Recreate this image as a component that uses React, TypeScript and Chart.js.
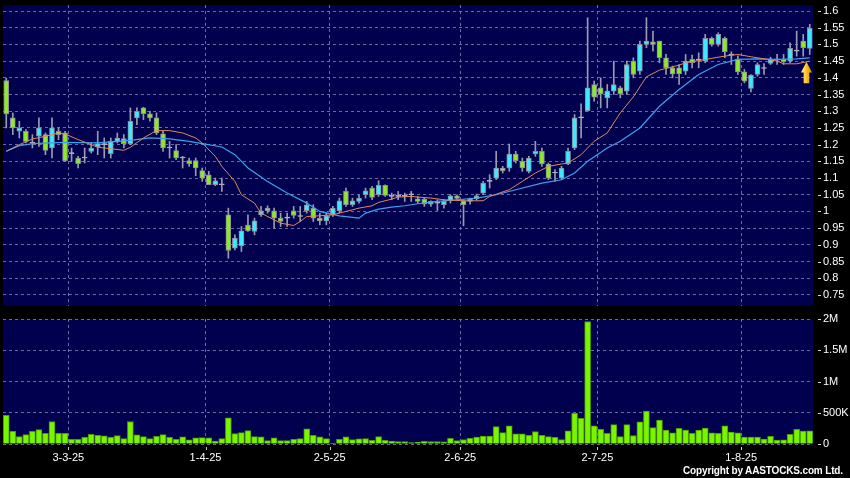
import React, { useEffect, useRef } from 'react';
import { Chart, registerables } from 'chart.js';

Chart.register(...registerables);

// ---------- data ----------
const opens = [
  1.392, 1.28, 1.24, 1.24, 1.205, 1.225, 1.23, 1.19, 1.24, 1.235,
  1.173, 1.16, 1.16, 1.18, 1.193, 1.2, 1.173, 1.21, 1.218, 1.203,
  1.28, 1.31, 1.292, 1.28, 1.232, 1.19, 1.182, 1.16, 1.152, 1.152,
  1.122, 1.11, 1.08, 1.08, 0.99, 0.89, 0.897, 0.959, 0.94, 0.99,
  1.01, 1.002, 0.98, 0.98, 1.002, 0.985, 1.002, 1.01, 0.98, 0.972,
  0.99, 1.002, 1.06, 1.02, 1.03, 1.05, 1.07, 1.05, 1.078, 1.045,
  1.045, 1.045, 1.05, 1.038, 1.037, 1.03, 1.025, 1.02, 1.032, 1.047,
  1.032, 1.03, 1.038, 1.055, 1.09, 1.1, 1.13, 1.13, 1.172, 1.15,
  1.12, 1.172, 1.18, 1.142, 1.115, 1.1, 1.142, 1.19, 1.28, 1.302,
  1.38, 1.37, 1.34, 1.36, 1.37, 1.36, 1.45, 1.42, 1.5, 1.508,
  1.51, 1.46, 1.43, 1.43, 1.42, 1.455, 1.453, 1.45, 1.518, 1.5,
  1.518, 1.468, 1.456, 1.418, 1.368, 1.41, 1.428, 1.443, 1.453, 1.456,
  1.45, 1.48, 1.51, 1.488,
];
const highs = [
  1.399, 1.295, 1.27, 1.245, 1.23, 1.28, 1.235, 1.28, 1.25, 1.24,
  1.19, 1.165, 1.19, 1.205, 1.24, 1.22, 1.22, 1.235, 1.23, 1.31,
  1.31, 1.312, 1.3, 1.295, 1.24, 1.21, 1.2, 1.165, 1.16, 1.16,
  1.13, 1.12, 1.1, 1.1, 1.01, 0.93, 0.955, 0.99, 0.98, 1.015,
  1.017, 1.01, 0.995, 0.995, 1.015, 1.015, 1.03, 1.02, 0.995, 0.995,
  1.015, 1.04, 1.07, 1.04, 1.05, 1.07, 1.075, 1.092, 1.08, 1.055,
  1.06, 1.055, 1.06, 1.045, 1.04, 1.032, 1.035, 1.035, 1.05, 1.05,
  1.035, 1.04, 1.052, 1.09, 1.11, 1.18, 1.135, 1.202, 1.18, 1.16,
  1.165, 1.21, 1.19, 1.145, 1.125, 1.135, 1.19, 1.29, 1.322, 1.58,
  1.39, 1.4, 1.38, 1.45, 1.375, 1.45, 1.46, 1.51, 1.58, 1.54,
  1.51, 1.47, 1.435, 1.44, 1.47, 1.468, 1.475, 1.53, 1.522, 1.535,
  1.522, 1.478, 1.466, 1.425, 1.41, 1.445, 1.443, 1.462, 1.47, 1.47,
  1.505, 1.54, 1.53, 1.56,
];
const lows = [
  1.25, 1.23, 1.22, 1.205, 1.19, 1.195, 1.17, 1.16, 1.215, 1.15,
  1.15, 1.13, 1.145, 1.175, 1.17, 1.16, 1.16, 1.205, 1.19, 1.2,
  1.26, 1.275, 1.27, 1.23, 1.18, 1.16, 1.155, 1.13, 1.135, 1.107,
  1.09, 1.08, 1.077, 1.06, 0.86, 0.885, 0.88, 0.94, 0.93, 0.985,
  0.995, 0.95, 0.955, 0.955, 0.98, 0.97, 0.995, 0.97, 0.96, 0.96,
  0.985, 0.995, 1.015, 1.015, 1.025, 1.04, 1.035, 1.045, 1.045, 1.035,
  1.035, 1.03, 1.03, 1.025, 1.015, 1.015, 1.003, 1.01, 1.025, 1.035,
  0.957, 1.022, 1.035, 1.05, 1.07, 1.095, 1.115, 1.12, 1.145, 1.12,
  1.115, 1.165, 1.135, 1.095, 1.09, 1.095, 1.14, 1.185, 1.22, 1.3,
  1.33, 1.31, 1.31, 1.35, 1.34, 1.35, 1.4, 1.41, 1.49, 1.48,
  1.445, 1.41, 1.4, 1.38, 1.41, 1.43, 1.43, 1.445, 1.495, 1.495,
  1.46, 1.44, 1.41, 1.385, 1.358, 1.405, 1.41, 1.44, 1.44, 1.44,
  1.445, 1.465, 1.465, 1.47,
];
const closes = [
  1.292, 1.25, 1.25, 1.21, 1.205, 1.25, 1.183, 1.25, 1.23, 1.152,
  1.173, 1.143, 1.16, 1.19, 1.203, 1.2, 1.21, 1.22, 1.203, 1.27,
  1.3, 1.293, 1.28, 1.235, 1.19, 1.19, 1.16, 1.16, 1.143, 1.13,
  1.1, 1.08, 1.092, 1.08, 0.883, 0.92, 0.942, 0.942, 0.972, 1.002,
  1.002, 0.98, 0.97, 0.98, 0.988, 0.985, 1.02, 0.98, 0.972, 0.987,
  1.01, 1.032, 1.02, 1.032, 1.04, 1.062, 1.042, 1.078, 1.048, 1.045,
  1.045, 1.045, 1.05, 1.03, 1.022, 1.022, 1.025, 1.03, 1.047, 1.039,
  1.02, 1.038, 1.047, 1.085, 1.09, 1.13, 1.122, 1.172, 1.152, 1.13,
  1.16, 1.18, 1.142, 1.1, 1.115, 1.13, 1.18, 1.28, 1.28, 1.37,
  1.342, 1.352, 1.36, 1.38, 1.352, 1.44, 1.41, 1.5, 1.51, 1.5,
  1.46, 1.43, 1.412, 1.412, 1.45, 1.445, 1.453, 1.518, 1.5, 1.53,
  1.478, 1.468, 1.418, 1.39, 1.408, 1.44, 1.428, 1.456, 1.453, 1.448,
  1.488, 1.48, 1.49, 1.548,
];
// volume in thousands of shares
const volumesK = [
  457, 204, 118, 150, 204, 231, 172, 360, 172, 172,
  75, 75, 108, 156, 140, 129, 108, 134, 86, 360,
  145, 118, 86, 124, 150, 108, 75, 113, 65, 97,
  102, 97, 48, 86, 419, 167, 183, 215, 118, 113,
  54, 97, 54, 54, 75, 86, 242, 140, 113, 86,
  16, 75, 113, 70, 81, 86, 59, 118, 59, 48,
  38, 38, 22, 27, 44, 39, 39, 33, 89, 56,
  72, 89, 111, 128, 128, 278, 183, 289, 161, 161,
  139, 200, 139, 117, 106, 72, 211, 489, 411, 1960,
  289, 233, 172, 311, 117, 311, 133, 356, 528, 261,
  383, 222, 178, 250, 222, 172, 222, 256, 178, 172,
  289, 189, 178, 111, 111, 111, 78, 122, 61, 67,
  156, 233, 206, 211,
];
// short moving average (orange), sampled at candle indices
const maShortIdx = [0, 1, 2, 4, 6, 8, 9, 11, 13, 14, 16, 18, 19, 21, 23, 25, 27, 29, 30, 32, 33, 35, 36, 38, 39, 41, 42, 44, 45, 46, 48, 50, 51, 53, 54, 56, 57, 59, 60, 62, 63, 65, 67, 70, 73, 74, 77, 79, 81, 83, 85, 86, 88, 90, 92, 94, 96, 98, 100, 103, 104, 107, 110, 112, 114, 116, 118, 119, 121, 123];
const maShortVal = [1.18, 1.19, 1.2, 1.217, 1.225, 1.235, 1.232, 1.215, 1.2, 1.192, 1.188, 1.183, 1.192, 1.22, 1.242, 1.242, 1.235, 1.22, 1.205, 1.165, 1.135, 1.09, 1.05, 1.025, 0.995, 0.975, 0.965, 0.958, 0.97, 0.985, 0.987, 0.99, 0.995, 1.005, 1.01, 1.017, 1.027, 1.037, 1.043, 1.045, 1.043, 1.04, 1.035, 1.032, 1.032, 1.045, 1.065, 1.09, 1.115, 1.135, 1.142, 1.145, 1.17, 1.21, 1.235, 1.295, 1.343, 1.403, 1.423, 1.438, 1.445, 1.455, 1.465, 1.47, 1.463, 1.457, 1.45, 1.442, 1.442, 1.45];
// long moving average (blue)
const maLongIdx = [0, 2, 4, 9, 14, 19, 22, 25, 28, 30, 33, 35, 37, 40, 43, 46, 48, 51, 54, 55, 57, 59, 61, 63, 66, 69, 72, 75, 78, 82, 85, 87, 89, 92, 94, 97, 100, 103, 106, 109, 112, 115, 118, 121, 123];
const maLongVal = [1.18, 1.197, 1.203, 1.207, 1.205, 1.213, 1.22, 1.217, 1.21, 1.203, 1.193, 1.17, 1.13, 1.09, 1.055, 1.025, 1.0, 0.987, 0.98, 0.995, 1.007, 1.013, 1.017, 1.023, 1.03, 1.035, 1.04, 1.05, 1.065, 1.085, 1.095, 1.115, 1.15, 1.19, 1.21, 1.25, 1.315, 1.365, 1.41, 1.44, 1.455, 1.457, 1.455, 1.457, 1.46];

const monthStartIdx = [10, 31, 50, 70, 91, 113];
const monthLabels = ['3-3-25', '1-4-25', '2-5-25', '2-6-25', '2-7-25', '1-8-25'];
const priceTicks = [0.75, 0.8, 0.85, 0.9, 0.95, 1, 1.05, 1.1, 1.15, 1.2, 1.25, 1.3, 1.35, 1.4, 1.45, 1.5, 1.55, 1.6];
const volumeTicks = [0, 500000, 1000000, 1500000, 2000000];
const volumeTickLabels = ['0', '500K', '1M', '1.5M', '2M'];
const arrowMark = { index: 122.5, tip: 1.448, base: 1.384 };

// ---------- styles ----------
const PLOT_BG = '#00004f';
const GRID = 'rgba(125,125,175,0.85)';
const UP = '#3ee9ff';
const DOWN = '#8de82e';
const DOJI = '#b8b8c4';
const WICK = '#9a9aae';
const BODY_BORDER = '#8c8c9c';
const MA_SHORT = '#e0895c';
const MA_LONG = '#3ba2ee';
const VOL_FILL = '#7af500';
const VOL_BORDER = '#4c9c00';
const FONT = "'Liberation Sans', Arial, sans-serif";
const AXIS_W = 37;

const N = closes.length;
const X_MIN = -0.5;
const X_MAX = N - 0.5;

const plotBg = {
  id: 'plotBg',
  beforeDraw(chart: any) {
    const { ctx, chartArea: a } = chart;
    ctx.save();
    ctx.fillStyle = PLOT_BG;
    ctx.fillRect(a.left, a.top, a.right - a.left, a.bottom - a.top);
    ctx.restore();
  },
};

const yTickMarks = {
  id: 'yTickMarks',
  afterDraw(chart: any) {
    const { ctx, chartArea: a, scales } = chart;
    const y = scales.y;
    ctx.save();
    ctx.strokeStyle = '#d8d8d8';
    ctx.lineWidth = 1;
    y.ticks.forEach((t: any) => {
      const py = Math.round(y.getPixelForValue(t.value)) + 0.5;
      ctx.beginPath();
      ctx.moveTo(a.right + 5, py);
      ctx.lineTo(a.right + 8, py);
      ctx.stroke();
    });
    ctx.restore();
  },
};

const xTickMarks = {
  id: 'xTickMarks',
  afterDraw(chart: any) {
    const { ctx, chartArea: a, scales } = chart;
    const x = scales.x;
    ctx.save();
    ctx.strokeStyle = '#c8c8c8';
    ctx.lineWidth = 1;
    x.ticks.forEach((t: any) => {
      const px = Math.round(x.getPixelForValue(t.value)) + 0.5;
      ctx.beginPath();
      ctx.moveTo(px, a.bottom + 3);
      ctx.lineTo(px, a.bottom + 6);
      ctx.stroke();
    });
    ctx.restore();
  },
};

const arrowPlugin = {
  id: 'arrowMark',
  afterDatasetsDraw(chart: any) {
    const { ctx, scales } = chart;
    const cx = scales.x.getPixelForValue(arrowMark.index);
    const tip = scales.y.getPixelForValue(arrowMark.tip);
    const base = scales.y.getPixelForValue(arrowMark.base);
    const headH = (base - tip) * 0.5;
    const hw = 5.5;
    const sw = 2.8;
    const g = ctx.createLinearGradient(cx - hw, 0, cx + hw, 0);
    g.addColorStop(0, '#fff4b0');
    g.addColorStop(0.45, '#ffc928');
    g.addColorStop(1, '#d98a00');
    ctx.save();
    ctx.fillStyle = g;
    ctx.beginPath();
    ctx.moveTo(cx, tip);
    ctx.lineTo(cx + hw, tip + headH);
    ctx.lineTo(cx + sw, tip + headH);
    ctx.lineTo(cx + sw, base);
    ctx.lineTo(cx - sw, base);
    ctx.lineTo(cx - sw, tip + headH);
    ctx.lineTo(cx - hw, tip + headH);
    ctx.closePath();
    ctx.fill();
    ctx.restore();
  },
};

function candleColor(i: number) {
  if (closes[i] > opens[i]) return UP;
  if (closes[i] < opens[i]) return DOWN;
  return DOJI;
}

function xScale(showLabels: boolean, height: number) {
  return {
    type: 'linear',
    min: X_MIN,
    max: X_MAX,
    offset: false,
    afterBuildTicks: (s: any) => {
      s.ticks = monthStartIdx.map((i) => ({ value: i - 0.5 }));
    },
    afterFit: (s: any) => {
      s.height = height;
      s.paddingLeft = 0;
      s.paddingRight = 0;
    },
    ticks: {
      display: showLabels,
      autoSkip: false,
      maxRotation: 0,
      minRotation: 0,
      padding: 7,
      color: '#ffffff',
      font: { family: FONT, size: 11 },
      callback: (_v: any, i: number) => monthLabels[i],
    },
    grid: { color: GRID, drawTicks: false, offset: false, lineWidth: 1 },
    border: { display: false, dash: [3, 3] },
  };
}

function yScale(min: number, max: number, ticks: number[], labelFn: (v: number, i: number) => string) {
  return {
    position: 'right',
    min,
    max,
    beginAtZero: false,
    afterBuildTicks: (s: any) => {
      s.ticks = ticks.map((v) => ({ value: v }));
    },
    afterFit: (s: any) => {
      s.width = AXIS_W;
      s.paddingTop = 0;
      s.paddingBottom = 0;
    },
    ticks: {
      color: '#ffffff',
      padding: 10,
      font: { family: FONT, size: 11 },
      callback: (v: any, i: number) => labelFn(v, i),
    },
    grid: { color: GRID, drawTicks: false, lineWidth: 1 },
    border: { display: false, dash: [3, 3] },
  };
}

export default function App() {
  const priceRef = useRef<HTMLCanvasElement>(null);
  const volRef = useRef<HTMLCanvasElement>(null);

  useEffect(() => {
    document.body.style.margin = '0';
    document.body.style.background = '#000';

    const idx = closes.map((_, i) => i);
    const price = new Chart(priceRef.current as HTMLCanvasElement, {
      type: 'bar',
      data: {
        datasets: [
          {
            type: 'line',
            label: 'MA short',
            data: maShortIdx.map((x, k) => ({ x, y: maShortVal[k] })),
            borderColor: MA_SHORT,
            borderWidth: 1,
            pointRadius: 0,
            tension: 0,
            order: 0,
          },
          {
            type: 'line',
            label: 'MA long',
            data: maLongIdx.map((x, k) => ({ x, y: maLongVal[k] })),
            borderColor: MA_LONG,
            borderWidth: 1.2,
            pointRadius: 0,
            tension: 0,
            order: 1,
          },
          {
            type: 'bar',
            label: 'body',
            data: idx.map((i) => ({ x: i, y: [opens[i], closes[i]] })),
            backgroundColor: idx.map((i) => candleColor(i)),
            borderColor: idx.map((i) => (closes[i] === opens[i] ? DOJI : BODY_BORDER)),
            borderWidth: 1,
            borderSkipped: false,
            barThickness: 5,
            minBarLength: 1,
            grouped: false,
            order: 2,
          },
          {
            type: 'bar',
            label: 'wick',
            data: idx.map((i) => ({ x: i, y: [lows[i], highs[i]] })),
            backgroundColor: WICK,
            borderWidth: 0,
            barThickness: 1,
            grouped: false,
            order: 3,
          },
        ],
      } as any,
      options: {
        animation: false,
        responsive: false,
        events: [],
        layout: { padding: { left: 3, right: 0, top: 5, bottom: 4 } },
        plugins: { legend: { display: false }, tooltip: { enabled: false } },
        scales: {
          x: xScale(false, 0),
          y: yScale(0.717, 1.618, priceTicks, (v) => String(v)),
        },
      } as any,
      plugins: [plotBg, yTickMarks, arrowPlugin],
    });

    const vol = new Chart(volRef.current as HTMLCanvasElement, {
      type: 'bar',
      data: {
        datasets: [
          {
            label: 'Volume',
            data: idx.map((i) => ({ x: i, y: volumesK[i] * 1000 })),
            backgroundColor: VOL_FILL,
            borderColor: VOL_BORDER,
            borderWidth: 1,
            borderSkipped: 'bottom',
            barThickness: 6,
            grouped: false,
          },
        ],
      } as any,
      options: {
        animation: false,
        responsive: false,
        events: [],
        layout: { padding: { left: 3, right: 0, top: 11, bottom: 0 } },
        plugins: { legend: { display: false }, tooltip: { enabled: false } },
        scales: {
          x: xScale(true, 34),
          y: yScale(0, 2000000, volumeTicks, (_v, i) => volumeTickLabels[i]),
        },
      } as any,
      plugins: [plotBg, yTickMarks, xTickMarks],
    });

    return () => {
      price.destroy();
      vol.destroy();
    };
  }, []);

  return (
    <div style={{ position: 'fixed', left: 0, top: 0, width: 850, height: 478, background: '#000', overflow: 'hidden' }}>
      <canvas ref={priceRef} width={850} height={310} style={{ position: 'absolute', left: 0, top: 0, width: 850, height: 310 }} />
      <canvas ref={volRef} width={850} height={170} style={{ position: 'absolute', left: 0, top: 308, width: 850, height: 170 }} />
      <div
        style={{
          position: 'absolute',
          left: 683,
          top: 465.5,
          fontFamily: FONT,
          fontWeight: 'bold',
          fontSize: 10,
          lineHeight: '10px',
          letterSpacing: '-0.15px',
          color: '#ffffff',
          whiteSpace: 'nowrap',
        }}
      >
        Copyright by AASTOCKS.com Ltd.
      </div>
    </div>
  );
}
